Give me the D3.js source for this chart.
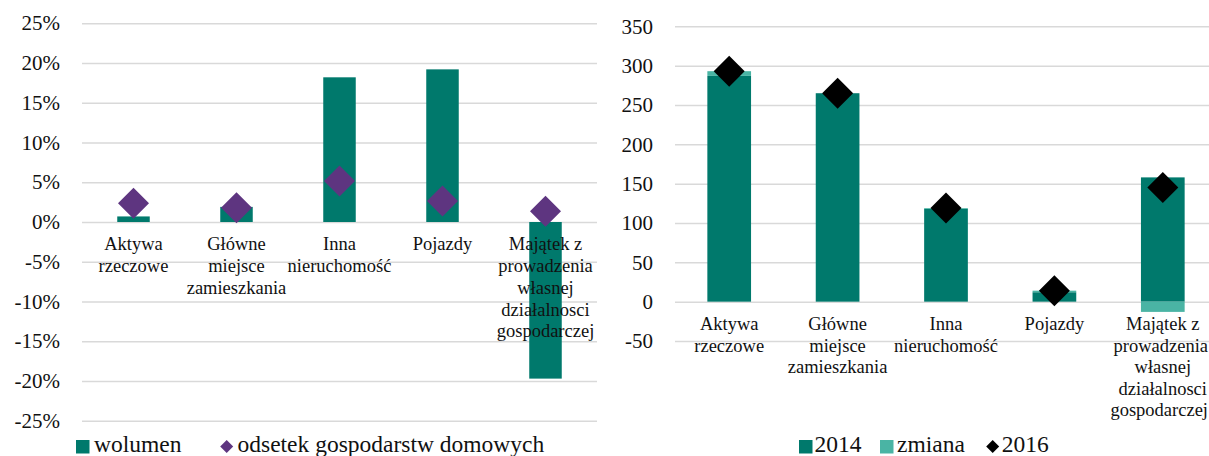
<!DOCTYPE html>
<html>
<head>
<meta charset="utf-8">
<script src="https://cdn.jsdelivr.net/npm/d3@7"></script>
<style>
  html, body { margin: 0; padding: 0; background: #fff; }
  svg { display: block; }
</style>
</head>
<body>
<svg id="chart" width="1209" height="456"></svg>
<script>
// Category labels (line breaks mark the wrapped lines)
const categories = [
  "Aktywa\nrzeczowe",
  "Główne\nmiejsce\nzamieszkania",
  "Inna\nnieruchomość",
  "Pojazdy",
  "Majątek z\nprowadzenia\nwłasnej\ndziałalnosci\ngospodarczej"
];

// Left panel: change in volume and share of households (%)
const wolumen = [0.7, 1.9, 18.2, 19.2, -19.7];
const odsetek = [2.35, 1.8, 5.15, 2.65, 1.35];
const leftTicks = [-25, -20, -15, -10, -5, 0, 5, 10, 15, 20, 25];

// Right panel: 2014 level, change, 2016 level
const v2014 = [287, 265, 118, 12, 158];
const zmiana = [6, 0, 1, 2, -13];
const v2016 = [293, 265, 119, 14, 145];
const rightTicks = [-50, 0, 50, 100, 150, 200, 250, 300, 350];

const FONT = '"Liberation Serif", "Times New Roman", serif';
const DARK = "#00796c";
const LIGHT = "#4ab4a4";
const PURPLE = "#5e3580";
const GRID = "#d9d9d9";
const INK = "#111";
const WIDTH = 1209;

const svg = d3.select("#chart").style("font-family", FONT);

function wrapLabel(sel, cx, y0, lineH, text) {
  const t = sel.append("text")
    .attr("text-anchor", "middle")
    .style("font-family", FONT)
    .style("font-size", "18.5px")
    .attr("fill", INK);
  text.split("\n").forEach((line, i) => {
    const ts = t.append("tspan").attr("x", cx).attr("y", y0 + i * lineH)
      .attr("dominant-baseline", "middle").text(line);
    // keep lines inside the drawing's right edge
    const w = ts.node().getComputedTextLength();
    if (cx + w / 2 > WIDTH - 1) ts.attr("x", WIDTH - 1 - w / 2);
  });
}

function diamond(g, cx, cy, r, fill) {
  g.append("path")
    .attr("d", `M${cx},${cy - r}L${cx + r},${cy}L${cx},${cy + r}L${cx - r},${cy}Z`)
    .attr("fill", fill);
}

function legendText(g, x, y, label) {
  g.append("text").attr("x", x).attr("y", y)
    .attr("dominant-baseline", "middle")
    .style("font-family", FONT).style("font-size", "23.5px")
    .attr("fill", INK).text(label);
}

function styleAxis(ax) {
  ax.select(".domain").remove();
  ax.attr("font-family", null).attr("font-size", null);
  ax.selectAll(".tick line").attr("stroke", GRID).attr("stroke-width", 1.5);
  ax.selectAll(".tick text").attr("fill", INK)
    .style("font-family", FONT).style("font-size", "21px");
}

// ---------- Left panel ----------
{
  const x = d3.scaleBand().domain(d3.range(categories.length)).range([82, 597]);
  const y = d3.scaleLinear().domain([-25, 25]).range([420.75, 23.25]);
  const g = svg.append("g");

  const axis = d3.axisLeft(y).tickValues(leftTicks)
    .tickFormat(d => d + "%").tickSize(-(597 - 82)).tickPadding(22);
  styleAxis(g.append("g").attr("transform", "translate(82,0)").call(axis));

  const bw = 32.5;
  g.selectAll("rect.vol").data(wolumen).join("rect")
    .attr("x", (d, i) => x(i) + x.bandwidth() / 2 - bw / 2)
    .attr("y", d => y(Math.max(0, d)))
    .attr("width", bw)
    .attr("height", d => Math.abs(y(d) - y(0)))
    .attr("fill", DARK);

  categories.forEach((c, i) => wrapLabel(g, x(i) + x.bandwidth() / 2, y(0) + 24, 21.8, c));

  odsetek.forEach((d, i) => diamond(g, x(i) + x.bandwidth() / 2, y(d), 15.5, PURPLE));

  // legend
  g.append("rect").attr("x", 76).attr("y", 440).attr("width", 13.5).attr("height", 13.5).attr("fill", DARK);
  legendText(g, 94, 447, "wolumen");
  diamond(g, 226.7, 446.5, 6.5, PURPLE);
  legendText(g, 237.5, 447, "odsetek gospodarstw domowych");
}

// ---------- Right panel ----------
{
  const x = d3.scaleBand().domain(d3.range(categories.length)).range([675, 1217]);
  const y = d3.scaleLinear().domain([-50, 350]).range([341.0, 26.35]);
  const g = svg.append("g");

  const axis = d3.axisLeft(y).tickValues(rightTicks)
    .tickFormat(d => String(d)).tickSize(-(1217 - 675)).tickPadding(22);
  styleAxis(g.append("g").attr("transform", "translate(675,0)").call(axis));

  const bw = 43.7;
  const cx = i => x(i) + x.bandwidth() / 2;

  g.selectAll("rect.base").data(v2014).join("rect")
    .attr("x", (d, i) => cx(i) - bw / 2)
    .attr("y", d => y(Math.max(0, d)))
    .attr("width", bw)
    .attr("height", d => Math.abs(y(d) - y(0)))
    .attr("fill", DARK);

  // change stacked on top of positive values, below zero when negative
  g.selectAll("rect.chg").data(zmiana).join("rect")
    .attr("x", (d, i) => cx(i) - bw / 2)
    .attr("y", (d, i) => d >= 0 ? y(v2014[i] + d) : y(0))
    .attr("width", bw)
    .attr("height", d => Math.abs(y(d) - y(0)))
    .attr("fill", LIGHT);

  categories.forEach((c, i) => wrapLabel(g, cx(i), y(0) + 24.5, 21.4, c));

  v2016.forEach((d, i) => diamond(g, cx(i), y(d), 15.5, "#000"));

  // legend
  g.append("rect").attr("x", 799).attr("y", 440).attr("width", 13.5).attr("height", 13.5).attr("fill", DARK);
  legendText(g, 814.5, 447, "2014");
  g.append("rect").attr("x", 880).attr("y", 440).attr("width", 13.5).attr("height", 13.5).attr("fill", LIGHT);
  legendText(g, 897, 447, "zmiana");
  diamond(g, 992.7, 446.5, 6.5, "#000");
  legendText(g, 1001.7, 447, "2016");
}
</script>
</body>
</html>
